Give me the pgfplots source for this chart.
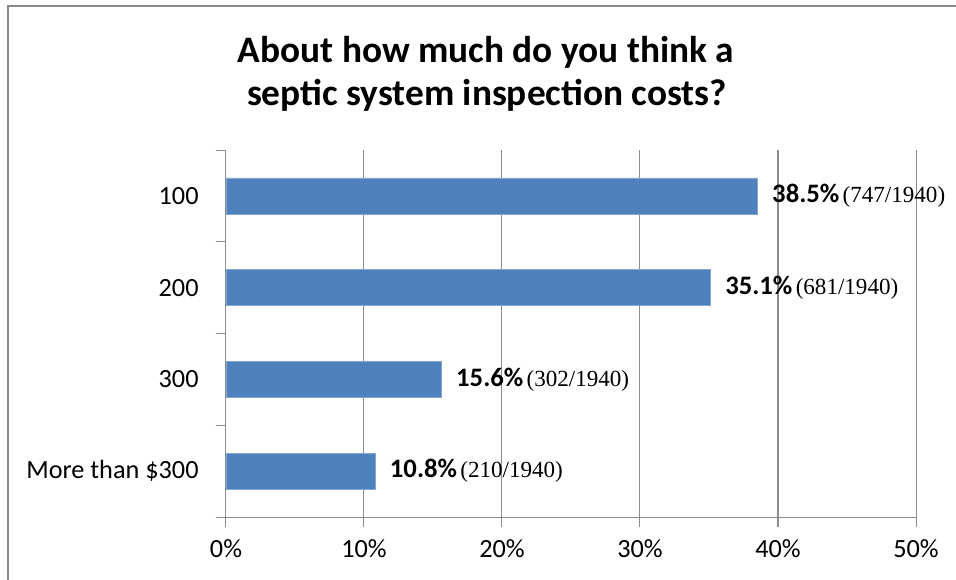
\documentclass[border=0pt]{standalone}
\usepackage{fontspec}
\setmainfont{Carlito}
\newfontfamily\numserif{Liberation Serif}
\usepackage{pgfplots}
\pgfplotsset{compat=1.18}
\definecolor{barblue}{HTML}{4F81BD}
\definecolor{gridgray}{HTML}{8C8C8C}
\definecolor{framegray}{HTML}{8A8A8A}
\newcommand\lab[2]{{\fontsize{20}{24}\selectfont\bfseries #1\%}\hspace{2.5pt}{\numserif\fontsize{17.3}{20}\selectfont(#2/1940)}}
\begin{document}
\begin{tikzpicture}[x=0.75pt,y=0.75pt]
\begin{axis}[
  scale only axis, width=517.5pt, height=275.25pt,
  xmin=0, xmax=50, ymin=-0.5, ymax=3.5,
  xbar, bar width=27pt,
  axis x line*=bottom, axis y line*=left,
  axis line style={gridgray, line width=0.75pt},
  xtick={0,10,20,30,40,50},
  xticklabels={0\%,10\%,20\%,30\%,40\%,50\%},
  ytick={-0.5,0.5,1.5,2.5,3.5},
  yticklabels={},
  extra y ticks={0,1,2,3},
  extra y tick labels={More than \$300,300,200,100},
  extra y tick style={major tick length=0pt},
  tick align=outside,
  major tick length=7.5pt,
  tick style={gridgray, line width=0.75pt},
  xmajorgrids,
  grid style={gridgray, line width=0.75pt},
  ticklabel style={font=\fontsize{19.7}{23}\selectfont},
  xticklabel style={yshift=-6pt},
  yticklabel style={xshift=-17pt},
  point meta=explicit symbolic,
  nodes near coords,
  every node near coord/.append style={anchor=west, inner sep=0pt, xshift=11pt, text=black},
]
\addplot[fill=barblue, draw=barblue!70!white, line width=0.4pt] coordinates {
  (10.8,0) [\lab{10.8}{210}]
  (15.6,1) [\lab{15.6}{302}]
  (35.1,2) [\lab{35.1}{681}]
  (38.5,3) [\lab{38.5}{747}]
};
\coordinate (O) at (rel axis cs:0,0);
\end{axis}
\begin{scope}[shift={(O)}, xshift=-169.5pt, yshift=-46.5pt]
\draw[framegray, line width=1.8pt] (8,-5) -- (8,573) -- (962,573);
\node[anchor=base, font=\fontsize{28}{34}\selectfont\bfseries] at (486,516) {About how much do you think a};
\node[anchor=base, font=\fontsize{28}{34}\selectfont\bfseries] at (487,473) {septic system inspection costs?};
\pgfresetboundingbox
\useasboundingbox (0,0) rectangle (956,579);
\end{scope}
\end{tikzpicture}
\end{document}
